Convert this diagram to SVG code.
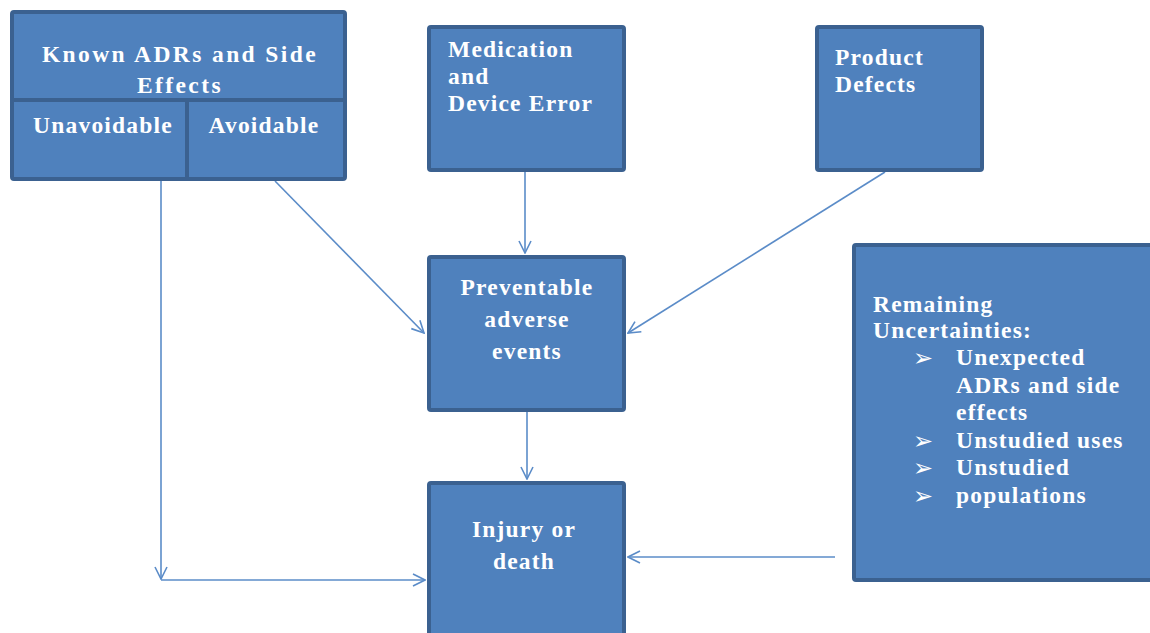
<svg xmlns="http://www.w3.org/2000/svg" width="1150" height="633" viewBox="0 0 1150 633">
  <style>
    .box { fill: #4f81bd; stroke: #3b6190; stroke-width: 4; }
    .div { stroke: #3b6190; stroke-width: 4; }
    .t { font-family: "Liberation Serif", "Times New Roman", serif; font-weight: bold; font-size: 23.5px; fill: #ffffff; letter-spacing: 1.2px; }
    .wide { letter-spacing: 2.4px; }
    .c { text-anchor: middle; }
    .bul { font-family: "DejaVu Sans", sans-serif; font-size: 24px; fill: #ffffff; }
    .edge { fill: none; stroke: #5b8cc8; stroke-width: 1.6; }
  </style>
  <defs>
    <marker id="arrow" viewBox="0 0 14 14" refX="13" refY="7" markerWidth="14" markerHeight="14" markerUnits="userSpaceOnUse" orient="auto">
      <path d="M1,1 L13,7 L1,13" fill="none" stroke="#5b8cc8" stroke-width="1.6"/>
    </marker>
  </defs>

  <rect width="1150" height="633" fill="#ffffff"/>

  <g id="connectors">
    <line class="edge" x1="161" y1="181" x2="161" y2="579" marker-end="url(#arrow)"/>
    <line class="edge" x1="161" y1="580" x2="425" y2="580" marker-end="url(#arrow)"/>
    <line class="edge" x1="275" y1="181" x2="424" y2="333" marker-end="url(#arrow)"/>
    <line class="edge" x1="525" y1="172" x2="525" y2="253" marker-end="url(#arrow)"/>
    <line class="edge" x1="885" y1="172" x2="628" y2="333" marker-end="url(#arrow)"/>
    <line class="edge" x1="527" y1="412" x2="527" y2="479" marker-end="url(#arrow)"/>
    <line class="edge" x1="835" y1="557" x2="628" y2="557" marker-end="url(#arrow)"/>
  </g>

  <g id="known-adrs">
    <rect class="box" x="12" y="12" width="333" height="167" rx="2"/>
    <line class="div" x1="12" y1="100" x2="345" y2="100"/>
    <line class="div" x1="187" y1="100" x2="187" y2="179"/>
    <text class="t c wide" x="180" y="62">Known ADRs and Side</text>
    <text class="t c wide" x="180" y="93">Effects</text>
    <text class="t c" x="103" y="133">Unavoidable</text>
    <text class="t c" x="264" y="133">Avoidable</text>
  </g>

  <g id="medication-error">
    <rect class="box" x="429" y="27" width="195" height="143" rx="2"/>
    <text class="t" x="448" y="57">Medication</text>
    <text class="t" x="448" y="84">and</text>
    <text class="t" x="448" y="111">Device Error</text>
  </g>

  <g id="product-defects">
    <rect class="box" x="817" y="27" width="165" height="143" rx="2"/>
    <text class="t" x="835" y="65">Product</text>
    <text class="t" x="835" y="92">Defects</text>
  </g>

  <g id="preventable-events">
    <rect class="box" x="429" y="257" width="195" height="153" rx="2"/>
    <text class="t c" x="527" y="295">Preventable</text>
    <text class="t c" x="527" y="327">adverse</text>
    <text class="t c" x="527" y="359">events</text>
  </g>

  <g id="injury-death">
    <rect class="box" x="429" y="483" width="195" height="170" rx="2"/>
    <text class="t c" x="524" y="537">Injury or</text>
    <text class="t c" x="524" y="569">death</text>
  </g>

  <g id="remaining-uncertainties">
    <rect class="box" x="854" y="245" width="310" height="335" rx="2"/>
    <text class="t" x="873" y="312">Remaining</text>
    <text class="t" x="873" y="338">Uncertainties:</text>
    <text class="bul" x="913" y="366">➢</text>
    <text class="t" x="956" y="365">Unexpected</text>
    <text class="t" x="956" y="393">ADRs and side</text>
    <text class="t" x="956" y="420">effects</text>
    <text class="bul" x="913" y="449">➢</text>
    <text class="t" x="956" y="448">Unstudied uses</text>
    <text class="bul" x="913" y="476">➢</text>
    <text class="t" x="956" y="475">Unstudied</text>
    <text class="bul" x="913" y="504">➢</text>
    <text class="t" x="956" y="503">populations</text>
  </g>
</svg>
